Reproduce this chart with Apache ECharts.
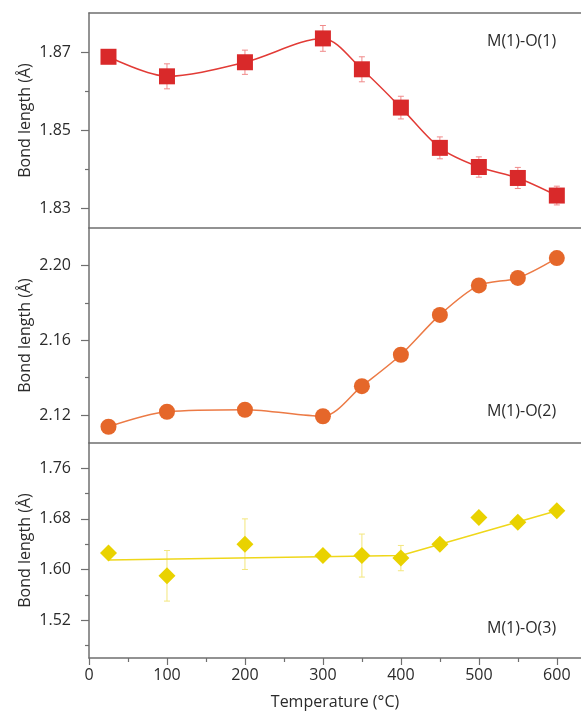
<!DOCTYPE html>
<html>
<head>
<meta charset="utf-8">
<script src="https://cdn.jsdelivr.net/npm/echarts@6/dist/echarts.min.js"></script>
<style>
  html, body { margin: 0; padding: 0; background: #fff; }
  #chart { width: 581px; height: 713px; }
</style>
</head>
<body>
<div id="chart"></div>
<script>
// Temperatures (°C) shared by all three bond series
const temperature = [25, 100, 200, 300, 350, 400, 450, 500, 550, 600];

// M(1)-O(1) bond length (Å) and its uncertainty
const bondO1 = [1.8688, 1.8638, 1.8674, 1.8735, 1.8656, 1.8558, 1.8455, 1.8406, 1.8378, 1.8333];
const errO1 = [0.0015, 0.0032, 0.0031, 0.0033, 0.0032, 0.0029, 0.0028, 0.0026, 0.0027, 0.0024];

// M(1)-O(2) bond length (Å)
const bondO2 = [2.1137, 2.1217, 2.1228, 2.1193, 2.1354, 2.1522, 2.1735, 2.1893, 2.1933, 2.2039];

// M(1)-O(3) bond length (Å), uncertainty, and the two-segment linear trend
const bondO3 = [1.626, 1.590, 1.640, 1.622, 1.622, 1.618, 1.640, 1.682, 1.6745, 1.693];
const errO3 = [0, 0.040, 0.040, 0, 0.034, 0.020, 0, 0, 0, 0];
const trendO3X = [25, 400, 600];
const trendO3Y = [1.615, 1.622, 1.693];

// Axis ticks
const xMajorTicks = [0, 100, 200, 300, 400, 500, 600];
const xMinorTicks = [50, 150, 250, 350, 450, 550];
const yTicksO1 = [1.83, 1.85, 1.87];
const yMinorO1 = [1.84, 1.86];
const yTicksO2 = [2.12, 2.16, 2.20];
const yMinorO2 = [2.14, 2.18];
const yTicksO3 = [1.52, 1.60, 1.68, 1.76];
const yMinorO3 = [1.48, 1.56, 1.64, 1.72];

const FONT = 'Open Sans';
const FONT_SIZE = 16;
const AXIS_COLOR = '#6f6f6f';
const TEXT_COLOR = '#2b2b2b';

const chart = echarts.init(document.getElementById('chart'), null, { renderer: 'canvas' });

const pairs = (xs, ys) => xs.map((x, i) => [x, ys[i]]);
const triples = (xs, ys, es) => xs.map((x, i) => [x, ys[i], es[i]]);

function errorBarRenderer(color) {
  return function (params, api) {
    const x = api.value(0), y = api.value(1), e = api.value(2);
    if (!e) return null;
    const hi = api.coord([x, y + e]);
    const lo = api.coord([x, y - e]);
    const cap = 3;
    const style = { stroke: color, lineWidth: 1 };
    return {
      type: 'group',
      children: [
        { type: 'line', shape: { x1: hi[0], y1: hi[1], x2: lo[0], y2: lo[1] }, style },
        { type: 'line', shape: { x1: hi[0] - cap, y1: hi[1], x2: hi[0] + cap, y2: hi[1] }, style },
        { type: 'line', shape: { x1: lo[0] - cap, y1: lo[1], x2: lo[0] + cap, y2: lo[1] }, style }
      ]
    };
  };
}

const gridLeft = 89, gridTop = 13, panelH = 215;
const grids = [0, 1, 2].map(i => ({
  left: gridLeft, right: 0, top: gridTop + i * panelH, height: panelH, containLabel: false
}));

const X_MIN = 0, X_MAX = 631;

// Horizontal frame line at the top of each panel
function topLineAxis(gridIndex) {
  return {
    type: 'value', gridIndex, position: 'top', min: X_MIN, max: X_MAX,
    axisLine: { show: true, lineStyle: { color: AXIS_COLOR, width: 1.5 } },
    axisTick: { show: false }, axisLabel: { show: false }, splitLine: { show: false }
  };
}

const xAxis = [
  topLineAxis(0),
  topLineAxis(1),
  {
    type: 'value', gridIndex: 2, position: 'bottom', min: X_MIN, max: X_MAX,
    name: 'Temperature (°C)', nameLocation: 'middle', nameGap: 36, nameMoveOverlap: false,
    nameTextStyle: { fontFamily: FONT, fontSize: FONT_SIZE, color: TEXT_COLOR },
    axisLine: { show: true, lineStyle: { color: AXIS_COLOR, width: 1.5 } },
    axisTick: { show: true, customValues: xMajorTicks, length: 7, inside: false, lineStyle: { color: AXIS_COLOR, width: 1.2 } },
    axisLabel: { show: true, customValues: xMajorTicks, margin: 9, fontFamily: FONT, fontSize: FONT_SIZE, color: TEXT_COLOR },
    splitLine: { show: false }
  },
  topLineAxis(2),
  {
    type: 'value', gridIndex: 2, position: 'bottom', min: X_MIN, max: X_MAX,
    axisLine: { show: false },
    axisTick: { show: true, customValues: xMinorTicks, length: 4, lineStyle: { color: AXIS_COLOR, width: 1.2 } },
    axisLabel: { show: false }, splitLine: { show: false }
  }
];

function mainYAxis(gridIndex, min, max, ticks) {
  return {
    type: 'value', gridIndex, position: 'left', min, max,
    name: 'Bond length (Å)', nameLocation: 'middle', nameGap: 56, nameMoveOverlap: false,
    nameTextStyle: { fontFamily: FONT, fontSize: FONT_SIZE, color: TEXT_COLOR },
    axisLine: { show: true, onZero: false, lineStyle: { color: AXIS_COLOR, width: 1.5 } },
    axisTick: { show: true, customValues: ticks, length: 8, lineStyle: { color: AXIS_COLOR, width: 1.2 } },
    axisLabel: {
      show: true, customValues: ticks, margin: 18, fontFamily: FONT, fontSize: FONT_SIZE, color: TEXT_COLOR,
      formatter: v => Number(v).toFixed(2)
    },
    splitLine: { show: false }
  };
}
function minorYAxis(gridIndex, min, max, ticks) {
  return {
    type: 'value', gridIndex, position: 'left', min, max,
    axisLine: { show: false },
    axisTick: { show: true, customValues: ticks, length: 4, lineStyle: { color: AXIS_COLOR, width: 1.2 } },
    axisLabel: { show: false }, splitLine: { show: false }
  };
}

const yAxis = [
  mainYAxis(0, 1.825, 1.88, yTicksO1),
  minorYAxis(0, 1.825, 1.88, yMinorO1),
  mainYAxis(1, 2.105, 2.22, yTicksO2),
  minorYAxis(1, 2.105, 2.22, yMinorO2),
  mainYAxis(2, 1.46, 1.80, yTicksO3),
  minorYAxis(2, 1.46, 1.80, yMinorO3)
];

const RED = '#d9292a', RED_LINE = '#e23b36', RED_ERR = '#f08a8a';
const ORANGE = '#e5672a', ORANGE_LINE = '#ec7a45';
const YELLOW = '#e9d200', YELLOW_LINE = '#efd71a', YELLOW_ERR = '#f3e67c';

const series = [
  {
    type: 'custom', name: 'M(1)-O(1) error', xAxisIndex: 0, yAxisIndex: 0, z: 1,
    renderItem: errorBarRenderer(RED_ERR), data: triples(temperature, bondO1, errO1),
    encode: { x: 0, y: 1 }
  },
  {
    type: 'line', name: 'M(1)-O(1)', xAxisIndex: 0, yAxisIndex: 0, z: 3,
    data: pairs(temperature, bondO1), smooth: 0.3,
    symbol: 'rect', symbolSize: 16, itemStyle: { color: RED },
    lineStyle: { color: RED_LINE, width: 1.5 }
  },
  {
    type: 'line', name: 'M(1)-O(2)', xAxisIndex: 1, yAxisIndex: 2, z: 3,
    data: pairs(temperature, bondO2), smooth: 0.3,
    symbol: 'circle', symbolSize: 16, itemStyle: { color: ORANGE },
    lineStyle: { color: ORANGE_LINE, width: 1.5 }
  },
  {
    type: 'custom', name: 'M(1)-O(3) error', xAxisIndex: 2, yAxisIndex: 4, z: 1,
    renderItem: errorBarRenderer(YELLOW_ERR), data: triples(temperature, bondO3, errO3),
    encode: { x: 0, y: 1 }
  },
  {
    type: 'line', name: 'M(1)-O(3) trend', xAxisIndex: 2, yAxisIndex: 4, z: 2,
    data: pairs(trendO3X, trendO3Y), symbol: 'none',
    lineStyle: { color: YELLOW_LINE, width: 1.5 }
  },
  {
    type: 'scatter', name: 'M(1)-O(3)', xAxisIndex: 2, yAxisIndex: 4, z: 3,
    data: pairs(temperature, bondO3),
    symbol: 'diamond', symbolSize: [17, 17], itemStyle: { color: YELLOW, opacity: 1 }
  }
];

// Panel captions
const captionStyle = { fontFamily: FONT, fontSize: FONT_SIZE, fill: TEXT_COLOR };
const graphic = [
  { type: 'text', left: 487, top: 33, style: Object.assign({ text: 'M(1)-O(1)' }, captionStyle) },
  { type: 'text', left: 487, top: 403, style: Object.assign({ text: 'M(1)-O(2)' }, captionStyle) },
  { type: 'text', left: 487, top: 620, style: Object.assign({ text: 'M(1)-O(3)' }, captionStyle) }
];

chart.setOption({
  animation: false,
  backgroundColor: '#fff',
  grid: grids,
  xAxis,
  yAxis,
  series,
  graphic
});
</script>
</body>
</html>
